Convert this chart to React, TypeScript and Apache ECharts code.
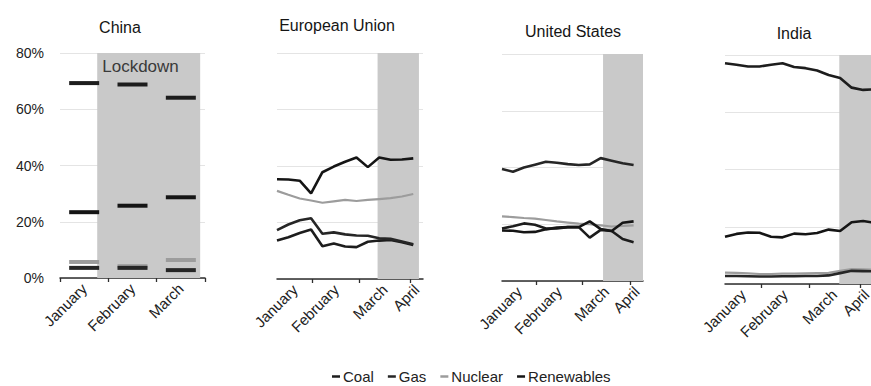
import React, { useEffect, useRef } from 'react';
import * as echarts from 'echarts';

// Fuels and their line colours
const fuels = ['Coal', 'Gas', 'Nuclear', 'Renewables'];
const fuelColors = ['#1d1d1d', '#262626', '#9c9c9c', '#151515'];

// China: monthly generation shares (%)
const chinaMonths = ['January', 'February', 'March'];
const chinaMonthPos = [0.5, 1.5, 2.5];
const chinaCoal = [69.3, 68.8, 64.1];
const chinaGas = [3.6, 3.6, 2.8];
const chinaNuclear = [5.7, 4.2, 6.4];
const chinaRenewables = [23.4, 25.7, 28.7];
const chinaLockdown = [0.77, 2.9];

// Weekly series, x = day of year (1 January = 0)
const weekDays = [9, 16, 23, 30, 37, 44, 51, 58, 65, 72, 79, 86, 93];
const indiaDays = [9, 16, 23, 30, 37, 44, 51, 58, 65, 72, 79, 86, 93, 100];

const euCoal = [13.6, 14.8, 16.3, 17.5, 11.6, 12.6, 11.5, 11.3, 13.2, 13.6, 13.8, 13.0, 12.0];
const euGas = [17.3, 19.3, 20.8, 21.5, 16.0, 16.5, 15.8, 15.4, 15.3, 14.4, 14.2, 13.3, 12.3];
const euNuclear = [31.2, 29.8, 28.5, 27.8, 27.0, 27.5, 28.0, 27.6, 28.0, 28.3, 28.6, 29.2, 30.1];
const euRenewables = [35.3, 35.2, 34.8, 30.3, 37.8, 39.8, 41.5, 43.0, 39.6, 43.0, 42.2, 42.3, 42.7];
const euLockdown = [71, 96.5];

const usCoal = [18.5, 19.3, 20.3, 19.8, 18.5, 18.5, 19.0, 19.0, 15.3, 18.0, 17.6, 14.8, 13.7];
const usGas = [39.5, 38.5, 40.0, 41.0, 42.0, 41.7, 41.2, 40.9, 41.1, 43.3, 42.4, 41.5, 40.9];
const usNuclear = [22.8, 22.5, 22.2, 22.0, 21.5, 21.0, 20.6, 20.2, 20.0, 19.6, 19.2, 19.4, 19.6];
const usRenewables = [17.8, 17.7, 17.2, 17.3, 18.2, 18.8, 19.0, 19.0, 21.0, 18.3, 17.6, 20.5, 21.0];
const usLockdown = [73.5, 99];

const indiaCoal = [77.1, 76.6, 76.0, 76.0, 76.6, 77.1, 75.8, 75.4, 74.6, 73.0, 72.0, 68.6, 67.8, 68.0];
const indiaGas = [2.8, 2.8, 2.7, 2.6, 2.6, 2.7, 2.7, 2.8, 2.8, 3.0, 3.8, 4.6, 4.5, 4.4];
const indiaNuclear = [4.0, 3.9, 3.7, 3.5, 3.5, 3.6, 3.6, 3.7, 3.8, 3.9, 4.6, 5.2, 5.1, 5.0];
const indiaRenewables = [16.5, 17.5, 18.0, 17.9, 16.5, 16.3, 17.6, 17.4, 17.8, 19.0, 18.5, 21.6, 22.0, 21.4];
const indiaLockdown = [78.5, 105];

// Month axis: ticks at month starts, labels mid-month
const monthLabels = ['January', 'February', 'March', 'April'];
const monthLabelDays = [20, 45.5, 75.5, 95];
const monthStartDays = [31, 60, 91];
const dayMin = 9;
const dayMax = 99;

// Share axis ticks
const yTicks = [0, 20, 40, 60, 80];

const FONT = 'Liberation Sans, Arial, sans-serif';
const AXIS_COLOR = '#2e2e2e';
const SHADE = '#c9c9c9';

const panels = [
  { title: 'China', titleX: 120, titleY: 19, grid: { left: 60, top: 53, width: 145, height: 225 } },
  { title: 'European Union', titleX: 337, titleY: 17, grid: { left: 277, top: 53, width: 146, height: 226 } },
  { title: 'United States', titleX: 573, titleY: 23, grid: { left: 502, top: 54, width: 141, height: 227 } },
  { title: 'India', titleX: 794, titleY: 25, grid: { left: 725, top: 55, width: 148, height: 229 } },
];

function pairs(xs: number[], ys: number[]) {
  return ys.map((v, i) => [xs[i], v]);
}

function lineSeries(axis: number, values: number[][], days: number[], lockdown: number[]) {
  return values.map((vals, i) => ({
    type: 'line',
    name: fuels[i],
    xAxisIndex: axis,
    yAxisIndex: axis,
    data: pairs(days, vals),
    symbol: 'none',
    color: fuelColors[i],
    lineStyle: { width: i === 2 ? 2.2 : 2.6, color: fuelColors[i] },
    z: i === 2 ? 2 : 3,
    markArea: i === 0
      ? {
          silent: true,
          itemStyle: { color: SHADE },
          data: [[{ xAxis: lockdown[0] }, { xAxis: lockdown[1] }]],
        }
      : undefined,
  }));
}

export default function App() {
  const ref = useRef<HTMLDivElement>(null);

  useEffect(() => {
    if (!ref.current) return;
    const chart = echarts.init(ref.current, undefined, { renderer: 'svg' });

    const chinaValues = [chinaCoal, chinaGas, chinaNuclear, chinaRenewables];

    const chinaSeries = chinaValues.map((vals, i) => ({
      type: 'scatter',
      name: fuels[i],
      xAxisIndex: 0,
      yAxisIndex: 0,
      data: pairs(chinaMonthPos, vals),
      symbol: 'rect',
      symbolSize: [30, 4],
      color: fuelColors[i],
      itemStyle: { color: fuelColors[i], opacity: 1 },
      z: i === 2 ? 2 : 3,
      markArea: i === 0
        ? {
            silent: true,
            itemStyle: { color: SHADE },
            label: {
              show: true,
              position: 'insideTopLeft',
              formatter: 'Lockdown',
              color: '#3a3a3a',
              fontSize: 17,
              fontFamily: FONT,
              distance: 5,
            },
            data: [[{ xAxis: chinaLockdown[0] }, { xAxis: chinaLockdown[1] }]],
          }
        : undefined,
    }));

    const axisLabelStyle = {
      rotate: 45,
      fontSize: 15,
      color: '#222',
      fontFamily: FONT,
      margin: 8,
    };

    const xAxes = panels.map((p, idx) => {
      if (idx === 0) {
        return {
          type: 'value',
          gridIndex: 0,
          min: 0,
          max: 3,
          splitLine: { show: false },
          axisLine: { show: true, onZero: false, lineStyle: { color: AXIS_COLOR, width: 1.5 } },
          axisTick: { show: true, length: 4, customValues: [0, 1, 2, 3], lineStyle: { color: AXIS_COLOR, width: 1.3 } },
          axisLabel: {
            ...axisLabelStyle,
            customValues: chinaMonthPos,
            formatter: (v: number) => chinaMonths[chinaMonthPos.indexOf(v)] ?? '',
          },
        };
      }
      return {
        type: 'value',
        gridIndex: idx,
        min: dayMin,
        max: dayMax,
        splitLine: { show: false },
        axisLine: { show: true, onZero: false, lineStyle: { color: AXIS_COLOR, width: 1.5 } },
        axisTick: { show: true, length: 4, customValues: monthStartDays, lineStyle: { color: AXIS_COLOR, width: 1.3 } },
        axisLabel: {
          ...axisLabelStyle,
          customValues: monthLabelDays,
          formatter: (v: number) => monthLabels[monthLabelDays.indexOf(v)] ?? '',
        },
      };
    });

    const yAxes = panels.map((p, idx) => ({
      type: 'value',
      gridIndex: idx,
      min: yTicks[0],
      max: yTicks[yTicks.length - 1],
      interval: 20,
      axisLine: { show: false },
      axisTick: { show: false },
      splitLine: { show: true, lineStyle: { color: '#e4e4e4', width: 1 } },
      axisLabel: {
        show: idx === 0,
        formatter: '{value}%',
        fontSize: 14,
        color: '#222',
        fontFamily: FONT,
        margin: 16,
      },
    }));

    const option = {
      animation: false,
      backgroundColor: '#ffffff',
      textStyle: { fontFamily: FONT },
      title: panels.map((p) => ({
        text: p.title,
        left: p.titleX,
        top: p.titleY,
        padding: 0,
        textAlign: 'center',
        textStyle: { fontSize: 16, fontWeight: 'normal', color: '#151515', fontFamily: FONT },
      })),
      legend: {
        data: fuels,
        left: 332,
        top: 369,
        padding: 0,
        icon: 'rect',
        itemWidth: 8,
        itemHeight: 2.5,
        itemGap: 14,
        textStyle: { fontSize: 15, color: '#222', fontFamily: FONT, padding: [0, 0, 0, -2] },
      },
      grid: panels.map((p) => ({ ...p.grid, outerBoundsMode: 'none', containLabel: false })),
      xAxis: xAxes,
      yAxis: yAxes,
      series: [
        ...chinaSeries,
        ...lineSeries(1, [euCoal, euGas, euNuclear, euRenewables], weekDays, euLockdown),
        ...lineSeries(2, [usCoal, usGas, usNuclear, usRenewables], weekDays, usLockdown),
        ...lineSeries(3, [indiaCoal, indiaGas, indiaNuclear, indiaRenewables], indiaDays, indiaLockdown),
      ],
    };

    chart.setOption(option as any);
    return () => chart.dispose();
  }, []);

  return (
    <div
      ref={ref}
      style={{ position: 'absolute', left: 0, top: 0, width: 871, height: 386, background: '#fff' }}
    />
  );
}
